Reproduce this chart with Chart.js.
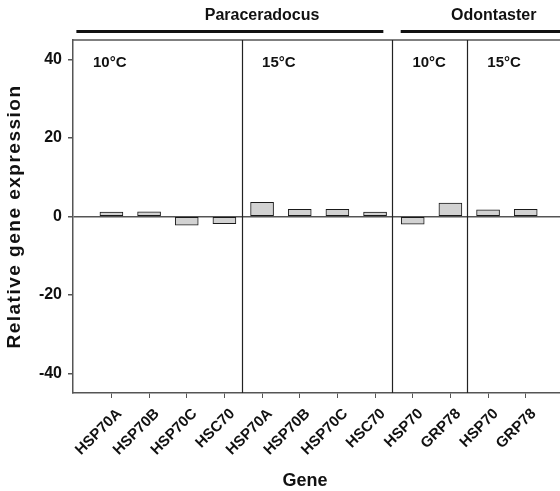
<!DOCTYPE html>
<html>
<head>
<meta charset="utf-8">
<script src="https://cdn.jsdelivr.net/npm/chart.js@4"></script>
<style>
  html, body { margin: 0; padding: 0; background: #fff; }
  #wrap { width: 560px; height: 491px; }
</style>
</head>
<body>
<div id="wrap"><canvas id="myChart"></canvas></div>
<script>
// gene names on the x axis, in order
const genes = ['HSP70A', 'HSP70B', 'HSP70C', 'HSC70', 'HSP70A', 'HSP70B', 'HSP70C', 'HSC70',
               'HSP70', 'GRP78', 'HSP70', 'GRP78'];
// relative expression
const expression = [1.1, 1.2, -2.2, -1.85, 3.6, 1.85, 1.85, 1.1, -1.95, 3.4, 1.7, 1.85];
const yTicks = [-40, -20, 0, 20, 40];

// panels (temperature) and species groups, in gene-index units
const panelStarts = [-0.02, 4.47, 8.46, 10.45];
const panelLabels = ['10°C', '15°C', '10°C', '15°C'];
const species = ['Paraceradocus', 'Odontaster'];
const speciesFrom = [0.07, 8.68];
const speciesTo = [8.22, 12.95];
const speciesLabelAt = [5.0, 11.15];

const xTitle = 'Gene';
const xTitleAt = 6.14;
const yTitle = 'Relative gene expression';

const FONT = '"Liberation Sans", Arial, Helvetica, sans-serif';
const INK = '#111';
const AXIS = '#555';

const decorations = {
    id: 'decorations',
    afterDatasetsDraw(chart) {
        const ctx = chart.ctx;
        const area = chart.chartArea;
        const x = chart.scales.x;
        ctx.save();

        // top frame line
        ctx.strokeStyle = AXIS;
        ctx.lineWidth = 1.5;
        ctx.beginPath();
        ctx.moveTo(area.left, area.top);
        ctx.lineTo(area.right, area.top);
        ctx.stroke();

        // panel separators
        ctx.strokeStyle = '#222';
        ctx.lineWidth = 1.2;
        panelStarts.slice(1).forEach(v => {
            const px = Math.round(x.getPixelForValue(v)) + 0.5;
            ctx.beginPath();
            ctx.moveTo(px, area.top);
            ctx.lineTo(px, area.bottom);
            ctx.stroke();
        });

        // temperature labels
        ctx.fillStyle = INK;
        ctx.font = 'bold 15px ' + FONT;
        ctx.textAlign = 'left';
        ctx.textBaseline = 'middle';
        panelStarts.forEach((v, i) => {
            ctx.fillText(panelLabels[i], x.getPixelForValue(v) + 20, area.top + 23);
        });

        // species headers
        ctx.strokeStyle = INK;
        ctx.lineWidth = 3;
        ctx.font = 'bold 16px ' + FONT;
        ctx.textAlign = 'center';
        species.forEach((s, i) => {
            const x0 = x.getPixelForValue(speciesFrom[i]);
            const x1 = Math.min(x.getPixelForValue(speciesTo[i]), chart.width);
            ctx.beginPath();
            ctx.moveTo(x0, area.top - 8.5);
            ctx.lineTo(x1, area.top - 8.5);
            ctx.stroke();
            ctx.fillText(s, x.getPixelForValue(speciesLabelAt[i]), 16);
        });

        // axis titles
        ctx.font = 'bold 18px ' + FONT;
        ctx.fillText(xTitle, x.getPixelForValue(xTitleAt), chart.height - 10);

        ctx.save();
        ctx.translate(15, (area.top + area.bottom) / 2);
        ctx.rotate(-Math.PI / 2);
        ctx.font = 'bold 19px ' + FONT;
        if ('letterSpacing' in ctx) ctx.letterSpacing = '1.5px';
        ctx.fillText(yTitle, 0, 0);
        ctx.restore();

        ctx.restore();
    }
};

const ctx = document.getElementById('myChart');

new Chart(ctx, {
    type: 'bar',
    data: {
        datasets: [{
            data: expression.map((v, i) => ({ x: i + 1, y: v })),
            backgroundColor: '#d2d2d2',
            borderColor: '#1a1a1a',
            borderWidth: 1,
            borderSkipped: false,
            barThickness: 23
        }]
    },
    options: {
        animation: false,
        responsive: true,
        maintainAspectRatio: false,
        layout: { padding: { top: 40, right: 0, left: 0, bottom: 0 } },
        plugins: {
            legend: { display: false },
            tooltip: { enabled: false }
        },
        scales: {
            x: {
                type: 'linear',
                offset: false,
                min: -0.02,
                max: 12.91,
                afterBuildTicks: scale => {
                    scale.ticks = genes.map((g, i) => ({ value: i + 1 }));
                },
                afterFit: scale => {
                    scale.height = 98;
                    scale.paddingLeft = 0;
                    scale.paddingRight = 0;
                },
                ticks: {
                    autoSkip: false,
                    minRotation: 45,
                    maxRotation: 45,
                    padding: 7,
                    labelOffset: 8,
                    color: INK,
                    font: { family: FONT, size: 15, weight: 'bold' },
                    callback: v => genes[v - 1]
                },
                grid: {
                    offset: false,
                    drawOnChartArea: false,
                    drawTicks: true,
                    tickLength: 5,
                    tickColor: AXIS
                },
                border: { display: true, color: AXIS, width: 1.5 }
            },
            y: {
                min: -45,
                max: 45,
                afterBuildTicks: scale => {
                    scale.ticks = yTicks.map(v => ({ value: v }));
                },
                afterFit: scale => {
                    scale.width = 73;
                },
                ticks: {
                    padding: 6,
                    color: INK,
                    font: { family: FONT, size: 16, weight: 'bold' }
                },
                grid: {
                    drawTicks: true,
                    tickLength: 5,
                    lineWidth: 1.5,
                    tickColor: AXIS,
                    color: c => (c.tick && c.tick.value === 0 ? AXIS : 'rgba(0,0,0,0)')
                },
                border: { display: true, color: AXIS, width: 1.5 }
            }
        }
    },
    plugins: [decorations]
});
</script>
</body>
</html>
